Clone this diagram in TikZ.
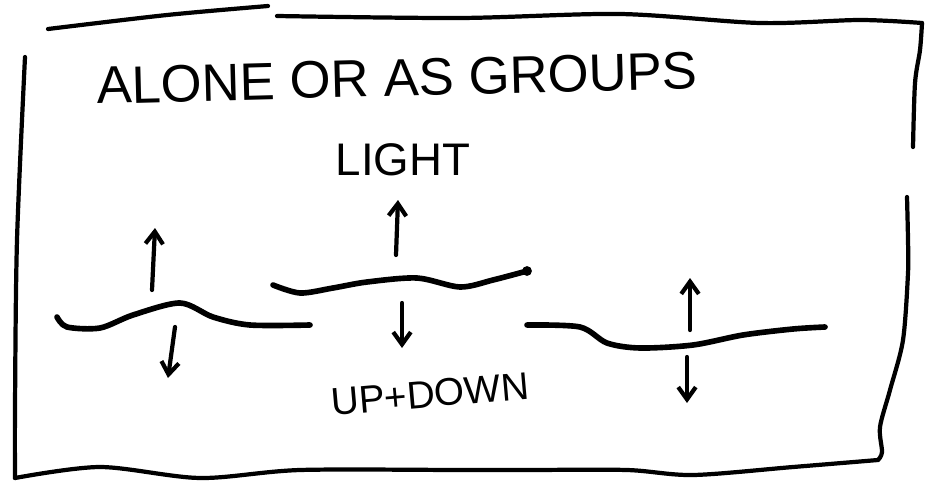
\documentclass[tikz,border=0pt]{standalone}
\usepackage{fontspec}
\setmainfont{Liberation Sans}
\usepackage{tikz}
\usetikzlibrary{arrows.meta}

\tikzset{
  >={Straight Barb[length=7pt,width=10pt]},
  sketch/.style={line width=2.4pt, line cap=round, line join=round},
  wave/.style={line width=3.2pt, line cap=round, line join=round},
  move/.style={->, line width=2.4pt, line cap=round},
}

\begin{document}
\begin{tikzpicture}[x=0.02cm,y=-0.02cm]
 \useasboundingbox (0,0) rectangle (925,483);

 % frame
 \draw[sketch] plot[smooth] coordinates {(48,29) (167,15) (268,6)};
 \draw[sketch] plot[smooth] coordinates {(277,16) (460,18) (620,14) (760,23) (860,20) (922,23)};
 \draw[sketch] plot[smooth] coordinates {(922,23) (920,50) (915,83) (913,147)};
 \draw[sketch] plot[smooth] coordinates {(907,197) (908,240) (908,273) (903,340) (890,390) (880,427) (882,452) (878,460)};
 \draw[sketch] plot[smooth] coordinates {(878,460) (793,467) (693,475) (627,470) (527,470) (460,470) (300,470) (200,478) (100,467) (15,478)};
 \draw[sketch] plot[smooth] coordinates {(15,478) (15,407) (17,240) (25,57)};

 \node (title) at (397,78) [rotate=1.5] {\fontsize{30}{36}\selectfont ALONE OR AS GROUPS};
 \node (light) at (403,160) {\fontsize{26}{30}\selectfont LIGHT};
 \node (updown) at (430,394) [rotate=5] {\fontsize{22}{26}\selectfont UP+DOWN};

 % waves
 \draw[wave] plot[smooth] coordinates {(57,317) (67,327) (100,328) (133,315) (180,303) (213,317) (250,325) (310,325)};
 \draw[wave] plot[smooth] coordinates {(273,285) (300,293) (333,288) (367,282) (417,278) (460,287) (493,280) (527,271)};
 \fill (527,271) circle (2.8pt);
 \draw[wave] plot[smooth] coordinates {(527,325) (580,327) (607,343) (640,348) (693,345) (743,335) (793,329) (825,327)};

 % arrows
 \coordinate (up1a) at (152,290);
 \coordinate (up1b) at (155,228);
 \coordinate (dn1a) at (175,327);
 \coordinate (dn1b) at (168,378);
 \coordinate (up2a) at (396,255);
 \coordinate (up2b) at (398,200);
 \coordinate (dn2a) at (402,303);
 \coordinate (dn2b) at (402,348);
 \coordinate (up3a) at (690,330);
 \coordinate (up3b) at (690,278);
 \coordinate (dn3a) at (687,357);
 \coordinate (dn3b) at (687,403);

 \draw[move] (up1a) -- (up1b);
 \draw[move] (dn1a) -- (dn1b);
 \draw[move] (up2a) -- (up2b);
 \draw[move] (dn2a) -- (dn2b);
 \draw[move] (up3a) -- (up3b);
 \draw[move] (dn3a) -- (dn3b);
\end{tikzpicture}
\end{document}
